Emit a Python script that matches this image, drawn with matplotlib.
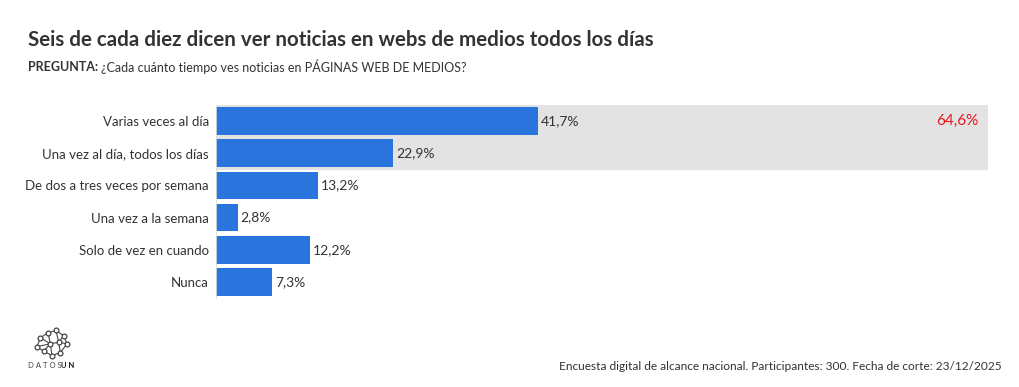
import matplotlib.pyplot as plt
import numpy as np

plt.rcParams['font.family'] = ['Lato', 'DejaVu Sans']

# datos
categorias = ['Varias veces al día', 'Una vez al día, todos los días', 'De dos a tres veces por semana',
              'Una vez a la semana', 'Solo de vez en cuando', 'Nunca']
valores = [41.7, 22.9, 13.2, 2.8, 12.2, 7.3]
total_diario = 64.6

titulo = 'Seis de cada diez dicen ver noticias en webs de medios todos los días'
pregunta = '¿Cada cuánto tiempo ves noticias en PÁGINAS WEB DE MEDIOS?'
fuente = 'Encuesta digital de alcance nacional. Participantes: 300. Fecha de corte: 23/12/2025'

azul = '#2a74dd'
texto = '#333333'

fig = plt.figure(figsize=(10.2, 3.87), dpi=100)
ax = fig.add_axes([0.2118, 0.2300, 0.7569, 0.4987])

y = np.arange(len(categorias))
# banda gris para "todos los días"
ax.axhspan(-0.5, 1.5, color='#e3e3e3', zorder=0)
ax.barh(y, valores, height=0.86, color=azul, zorder=2)
for yi, v in zip(y, valores):
    ax.text(v + 0.4, yi, f'{v:.1f}%'.replace('.', ','), va='center', ha='left',
            fontsize=10, color=texto, zorder=3)
ax.text(98.8, 0, f'{total_diario:.1f}%'.replace('.', ','), va='center', ha='right',
        fontsize=11, color='#e8141c', zorder=3)

ax.set_xlim(0, 100)
ax.set_ylim(len(categorias) - 0.5, -0.5)
ax.set_yticks(y)
ax.set_yticklabels(categorias, fontsize=9.5, color=texto)
ax.tick_params(axis='y', length=0, pad=5)
ax.set_xticks([])
for s in ['top', 'right', 'bottom']:
    ax.spines[s].set_visible(False)
ax.spines['left'].set_color('#dddddd')
ax.spines['left'].set_linewidth(0.6)

# textos
fig.text(28 / 1020, 1 - 40 / 387, titulo, fontsize=14.8, fontweight='bold', color=texto, va='center')
t = fig.text(28 / 1020, 1 - 67 / 387, 'PREGUNTA:', fontsize=9, fontweight='bold', color=texto, va='center')
fig.canvas.draw()
bb = t.get_window_extent()
fig.text((bb.x1 + 3) / 1020, 1 - 67 / 387, pregunta, fontsize=9, color=texto, va='center')
fig.text(1002 / 1020, 1 - 366 / 387, fuente, fontsize=8.6, color=texto, va='center', ha='right')

# logo
lax = fig.add_axes([32 / 1020, 1 - 360 / 387, 40 / 1020, 34 / 387])
nodos = np.array([[0.15, 0.65], [0.38, 0.82], [0.62, 0.9], [0.85, 0.72], [0.95, 0.45],
                  [0.75, 0.15], [0.5, 0.05], [0.25, 0.2], [0.05, 0.35], [0.45, 0.45], [0.7, 0.5]])
aristas = [(0, 1), (1, 2), (2, 3), (3, 4), (4, 5), (5, 6), (6, 7), (7, 8), (8, 0), (0, 9), (1, 9),
           (9, 6), (9, 10), (10, 3), (10, 5), (2, 10), (7, 9), (4, 10), (9, 8)]
for a, b in aristas:
    lax.plot(nodos[[a, b], 0], nodos[[a, b], 1], color='#444444', lw=0.8)
lax.scatter(nodos[:, 0], nodos[:, 1], s=12, facecolor='white', edgecolor='#444444', lw=0.9, zorder=3)
lax.set_xlim(-0.1, 1.1)
lax.set_ylim(-0.1, 1.05)
lax.axis('off')
fig.text(28 / 1020, 1 - 366 / 387, 'D A T O S', fontsize=5.5, color='#444444', va='center')
fig.text(61 / 1020, 1 - 366 / 387, 'U N', fontsize=5.5, fontweight='bold', color='#222222', va='center')

fig.savefig('out.png', dpi=100)
